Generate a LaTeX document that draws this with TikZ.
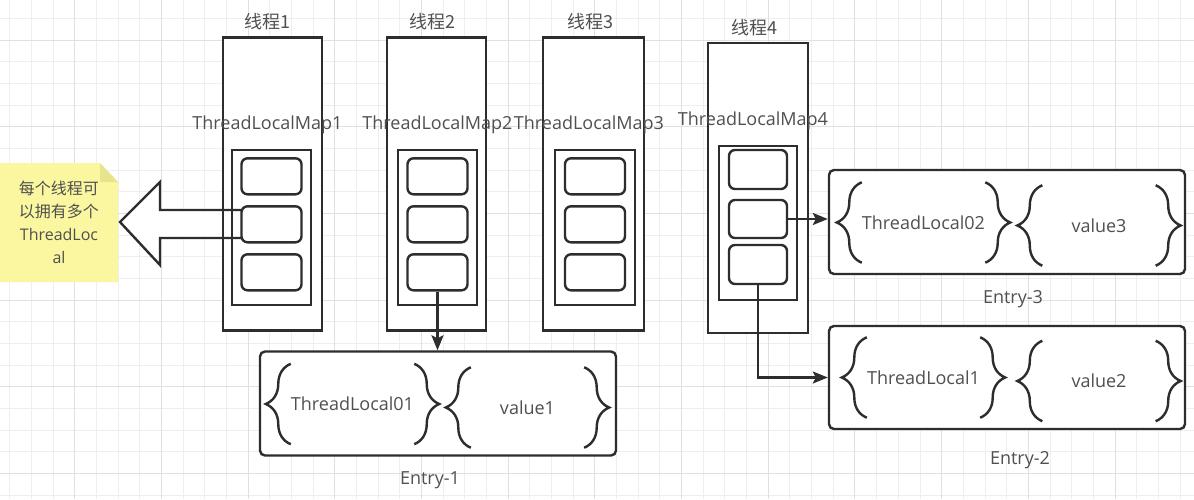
\documentclass[tikz,border=0pt]{standalone}
\usepackage{fontspec}
\setmainfont{Open Sans}
\newfontfamily\cjk{Noto Sans CJK SC}
\usepackage{tikz}
\usetikzlibrary{arrows.meta,positioning,calc,decorations.pathreplacing}
\definecolor{gridminor}{RGB}{238,238,238}
\definecolor{gridmajor}{RGB}{224,224,224}
\definecolor{linecol}{RGB}{45,45,45}
\definecolor{textcol}{RGB}{80,80,80}
\definecolor{notecol}{RGB}{250,247,160}
\definecolor{foldcol}{RGB}{232,228,140}
\tikzset{
  thread/.style  ={rectangle, draw=linecol, line width=2.4pt, fill=white,
                   minimum width=99pt, minimum height=293pt, inner sep=0pt},
  mapbox/.style  ={rectangle, draw=linecol, line width=2.4pt, fill=white,
                   minimum width=79pt, minimum height=155pt, inner sep=0pt},
  cell/.style    ={rectangle, rounded corners=6pt, draw=linecol, line width=2.4pt,
                   fill=white, minimum width=60pt, minimum height=36pt, inner sep=0pt},
  entry/.style   ={rectangle, rounded corners=5pt, draw=linecol, line width=2.4pt,
                   fill=white, minimum width=356pt, minimum height=104pt, inner sep=0pt},
  pair/.style    ={rectangle, minimum width=113pt, minimum height=80pt, inner sep=0pt,
                   text=textcol, font=\fontsize{18}{21}\selectfont},
  tag/.style     ={text=textcol, font=\fontsize{18}{21}\selectfont, inner sep=2pt},
  brc/.style     ={decorate, decoration={brace, amplitude=25pt}, draw=linecol,
                   line width=2.4pt},
  link/.style    ={-{Stealth[length=15pt, width=12pt, inset=3pt]}, draw=linecol,
                   line width=2.2pt},
  bigarrow/.style={draw=linecol, line width=2.4pt, line join=miter},
}

\begin{document}
\begin{tikzpicture}[x=1pt, y=-1pt, node distance=6pt]
    \useasboundingbox (0,0) rectangle (1194,499);
    \clip (0,0) rectangle (1194,499);
    \fill[white] (0,0) rectangle (1194,499);

    % background grid
    \foreach \k in {0,...,55}
        \draw[gridminor, line width=0.9pt] (9.8+21.67*\k,0) -- ++(0,499);
    \foreach \k in {0,...,23}
        \draw[gridminor, line width=0.9pt] (0,-3.3+21.67*\k) -- ++(1194,0);
    \foreach \k in {0,...,13}
        \draw[gridmajor, line width=0.9pt] (74.8+86.68*\k,0) -- ++(0,499);
    \foreach \k in {0,...,5}
        \draw[gridmajor, line width=0.9pt] (0,40+86.68*\k) -- ++(1194,0);

    % note
    \fill[notecol] (0,163) -- (100,163) -- (118,182) -- (118,282) -- (0,282) -- cycle;
    \fill[foldcol] (100,163) -- (118,182) -- (100,182) -- cycle;
    \node[tag, align=center, font=\fontsize{16}{23}\selectfont] (note) at (59,222)
        {\cjk 每个线程可\\\cjk 以拥有多个\\ThreadLoc\\al};
    \fill[white] (242,210) -- (160,210) -- (160,182) -- (120,223) -- (160,265)
        -- (160,238) -- (242,238) -- cycle;

    % threads
    \node[thread] (t1) at (272.5,184) {};
    \node[thread] (t2) at (436.5,184) {};
    \node[thread, minimum width=101pt] (t3) at (593.5,184) {};
    \node[thread, minimum width=100pt, minimum height=290pt] (t4) at (758,188) {};
    \node[tag, above=4pt of t1, xshift=-5pt] {\cjk 线程1};
    \node[tag, above=4pt of t2, xshift=-4pt] {\cjk 线程2};
    \node[tag, above=4pt of t3, xshift=-3pt] {\cjk 线程3};
    \node[tag, above=4pt of t4, xshift=-4pt] {\cjk 线程4};

    % maps
    \node[mapbox] (m1) at (271.5,227.5) {};
    \node[mapbox] (m2) at (437.5,227.5) {};
    \node[mapbox, minimum width=80pt] (m3) at (595,227.5) {};
    \node[mapbox, minimum width=78pt, minimum height=154pt] (m4) at (758,223) {};
    \node[tag, above=13pt of m1, xshift=-4pt] {ThreadLocalMap1};
    \node[tag, above=13pt of m2] {ThreadLocalMap2};
    \node[tag, above=13pt of m3, xshift=-6pt] {ThreadLocalMap3};
    \node[tag, above=13pt of m4, xshift=-5pt] {ThreadLocalMap4};

    \draw[bigarrow] (242,210) -- (160,210) -- (160,182) -- (note.east -| 120,0)
        -- (160,265) -- (160,238) -- (242,238);

    % cells
    \foreach \m in {1,2,3} {
        \node[cell] (c\m1) at ($(m\m.north)+(0,27.5)$) {};
        \node[cell, below=9.6pt of c\m1] (c\m2) {};
        \node[cell, below=9.6pt of c\m2] (c\m3) {};
    }
    \node[cell, minimum width=58pt, minimum height=39pt] (c41) at (758,169.5) {};
    \node[cell, minimum width=58pt, minimum height=38pt] (c42) at (758,219) {};
    \node[cell, minimum width=58pt, minimum height=39pt] (c43) at (758,264.5) {};

    % entries
    \node[entry] (e1) at (438,403.5) {};
    \node[entry] (e3) at (1007,222) {};
    \node[entry, minimum height=103pt] (e2) at (1007,377.5) {};
    \node[tag, below=13pt of e1, xshift=-8pt] {Entry-1};
    \node[tag, below=13pt of e3, xshift=6pt] {Entry-3};
    \node[tag, below=19pt of e2, xshift=13pt] {Entry-2};

    \node[pair] (k1) at (352.5,404) {ThreadLocal01};
    \node[pair] (v1) at (527.5,407.5) {value1};
    \node[pair] (k3) at (923.5,222.5) {ThreadLocal02};
    \node[pair] (v3) at (1099,225.5) {value3};
    \node[pair] (k2) at (923.5,377.5) {ThreadLocal1};
    \node[pair] (v2) at (1099,381) {value2};
    \foreach \p in {k1,v1,k3,v3,k2,v2} {
        \draw[brc] (\p.south west) -- (\p.north west);
        \draw[brc] (\p.north east) -- (\p.south east);
    }

    % links
    \draw[link] (c23.south) -- (c23.south |- e1.north);
    \draw[link] (c42.east) -- (c42.east -| e3.west);
    \draw[link] (c43.south) |- (e2.west);
\end{tikzpicture}
\end{document}
